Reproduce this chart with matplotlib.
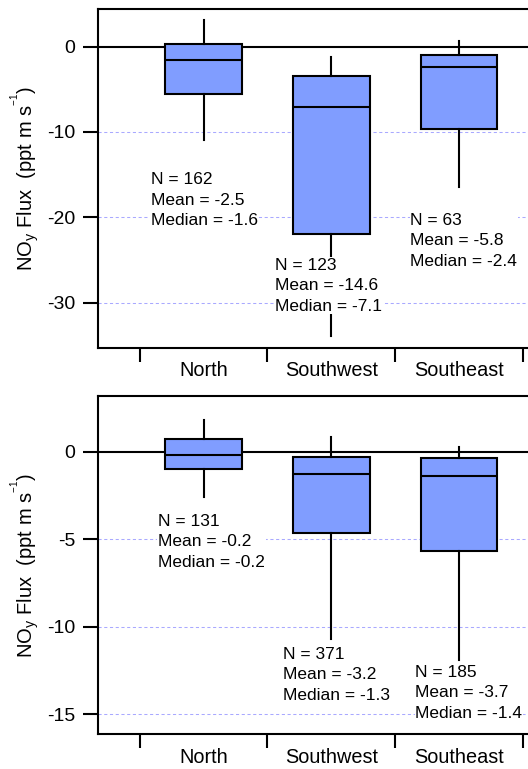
import matplotlib
matplotlib.use('Agg')
import matplotlib.pyplot as plt

plt.rcParams['font.family'] = ['Liberation Sans', 'DejaVu Sans']
plt.rcParams['mathtext.fontset'] = 'custom'
plt.rcParams['mathtext.rm'] = 'Liberation Sans'
plt.rcParams['mathtext.it'] = 'Liberation Sans:italic'
plt.rcParams['mathtext.bf'] = 'Liberation Sans:bold'

categories = ['North', 'Southwest', 'Southeast']

# ---- top panel data ----
top_whishi = [3.1, -1.2, 0.7]
top_q3 = [0.3, -3.4, -1.0]
top_med = [-1.6, -7.1, -2.4]
top_q1 = [-5.5, -21.9, -9.6]
top_whislo = [-11.0, -33.9, -16.5]
top_n = [162, 123, 63]
top_mean = [-2.5, -14.6, -5.8]
top_yticks = [0, -10, -20, -30]

# ---- bottom panel data ----
bot_whishi = [1.8, 0.85, 0.27]
bot_q3 = [0.7, -0.3, -0.38]
bot_med = [-0.2, -1.3, -1.4]
bot_q1 = [-0.97, -4.63, -5.7]
bot_whislo = [-2.6, -10.7, -11.9]
bot_n = [131, 371, 185]
bot_mean = [-0.2, -3.2, -3.7]
bot_yticks = [0, -5, -10, -15]

# ---- layout (annotation anchor positions in data coords) ----
top_text_x = [-0.415, 0.561, 1.619]
top_text_y = [-18.0, -28.0, -22.75]
bot_text_x = [-0.356, 0.624, 1.658]
bot_text_y = [-5.15, -12.76, -13.77]

BOX_COLOR = '#809dff'
GRID_COLOR = '#a9a9ff'
LW = 1.5

fig = plt.figure(figsize=(5.28, 7.69), dpi=100)
ax1 = fig.add_axes([0.185, 0.5475, 0.8847, 0.4408])
ax2 = fig.add_axes([0.185, 0.0451, 0.8847, 0.4403])


def draw(ax, whishi, q3, med, q1, whislo, n, mean, yticks, ylim, tx, ty):
    stats = []
    for i in range(len(categories)):
        stats.append(dict(med=med[i], q1=q1[i], q3=q3[i],
                          whislo=whislo[i], whishi=whishi[i], label=categories[i]))
    for yt in yticks:
        if yt != 0:
            ax.axhline(yt, color=GRID_COLOR, lw=0.75, ls=(0, (3, 2.5)), zorder=0.5)
    ax.axhline(0, color='black', lw=LW, zorder=1)
    ax.bxp(stats, positions=range(len(categories)), widths=0.6,
           patch_artist=True, showfliers=False, showcaps=False,
           boxprops=dict(facecolor=BOX_COLOR, edgecolor='black', linewidth=LW),
           medianprops=dict(color='black', linewidth=LW),
           whiskerprops=dict(color='black', linewidth=LW),
           manage_ticks=False)
    for i in range(len(categories)):
        txt = f"N = {n[i]}\nMean = {mean[i]:.1f}\nMedian = {med[i]:.1f}"
        ax.text(tx[i], ty[i], txt, ha='left', va='center', fontsize=12.5,
                linespacing=1.45, zorder=5,
                bbox=dict(facecolor='white', edgecolor='none', pad=0.5))
    ax.set_xlim(-0.83, 2.83)
    ax.set_ylim(*ylim)
    ax.set_yticks(yticks)
    ax.set_yticklabels([str(v) for v in yticks])
    ax.set_xticks(range(len(categories)))
    ax.set_xticklabels(categories)
    ax.set_xticks([-0.5, 0.5, 1.5, 2.5], minor=True)
    ax.tick_params(axis='x', which='major', length=0, pad=9.5, labelsize=14.3)
    ax.tick_params(axis='x', which='minor', length=10, width=LW, direction='out')
    ax.tick_params(axis='y', which='major', length=10.8, width=LW, direction='out',
                   pad=5.5, labelsize=14)
    for s in ax.spines.values():
        s.set_linewidth(LW)
    ax.set_ylabel(r'NO$_\mathrm{y}$ Flux  (ppt m s$^{^{-1}}$)', fontsize=14.5)
    ax.yaxis.set_label_coords(-0.12, 0.5)


draw(ax1, top_whishi, top_q3, top_med, top_q1, top_whislo, top_n, top_mean,
     top_yticks, (-35.3, 4.4), top_text_x, top_text_y)
draw(ax2, bot_whishi, bot_q3, bot_med, bot_q1, bot_whislo, bot_n, bot_mean,
     bot_yticks, (-16.15, 3.2), bot_text_x, bot_text_y)

fig.savefig('out.png', dpi=100)
